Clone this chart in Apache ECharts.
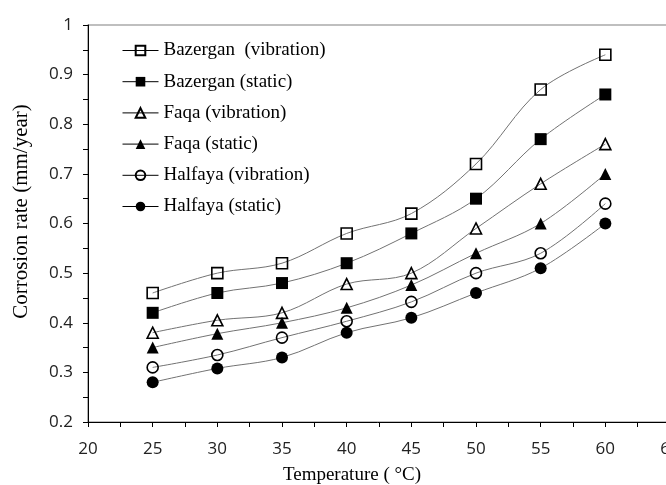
<!DOCTYPE html>
<html>
<head>
<meta charset="utf-8">
<script src="https://cdn.jsdelivr.net/npm/echarts@6/dist/echarts.min.js"></script>
<style>html,body{margin:0;padding:0;background:#fff}#c{width:666px;height:485px}</style>
</head>
<body>
<div id="c"></div>
<script>
var temperatures = [25, 30, 35, 40, 45, 50, 55, 60];
var bazerganVibration = [0.46, 0.50, 0.52, 0.58, 0.62, 0.72, 0.87, 0.94];
var bazerganStatic = [0.42, 0.46, 0.48, 0.52, 0.58, 0.65, 0.77, 0.86];
var faqaVibration = [0.38, 0.405, 0.42, 0.478, 0.50, 0.59, 0.68, 0.76];
var faqaStatic = [0.35, 0.378, 0.40, 0.43, 0.476, 0.54, 0.60, 0.70];
var halfayaVibration = [0.31, 0.335, 0.37, 0.403, 0.442, 0.50, 0.54, 0.64];
var halfayaStatic = [0.28, 0.308, 0.33, 0.38, 0.41, 0.46, 0.51, 0.60];
var seriesNames = ['Bazergan  (vibration)', 'Bazergan (static)', 'Faqa (vibration)', 'Faqa (static)', 'Halfaya (vibration)', 'Halfaya (static)'];
var xTitle = 'Temperature ( \u00B0C)';
var yTitle = 'Corrosion rate (mm/year)';

function pairs(vals) { return temperatures.map(function (t, i) { return [t, vals[i]]; }); }

var shapes = [
  ['rect', false], ['rect', true], ['triangle', false], ['triangle', true], ['circle', false], ['circle', true]
];
var allData = [bazerganVibration, bazerganStatic, faqaVibration, faqaStatic, halfayaVibration, halfayaStatic];

var series = allData.map(function (d, i) {
  var filled = shapes[i][1];
  return {
    name: seriesNames[i],
    type: 'line',
    smooth: 0.35,
    data: pairs(d),
    symbol: shapes[i][0],
    symbolSize: filled ? 12 : 11,
    showAllSymbol: true,
    lineStyle: { color: '#727272', width: 1 },
    itemStyle: filled ? { color: '#000', borderColor: '#000', borderWidth: 0 } : { color: 'rgba(255,255,255,0)', borderColor: '#000', borderWidth: 1.6 },
    emphasis: { disabled: true },
    animation: false
  };
});

var chart = echarts.init(document.getElementById('c'), null, { renderer: 'canvas' });
chart.setOption({
  animation: false,
  grid: { left: 88, top: 25, width: 582, bottom: 63, outerBoundsMode: 'none', containLabel: false, show: true, borderColor: '#808080', borderWidth: 1.2, backgroundColor: 'transparent' },
  legend: {
    orient: 'vertical', left: 122, top: 41, padding: 0, itemWidth: 36, itemHeight: 12, itemGap: 12.2,
    data: seriesNames,
    lineStyle: { color: '#000', width: 1 },
    textStyle: { fontFamily: 'Liberation Serif', fontSize: 19, color: '#000' }
  },
  xAxis: {
    type: 'value', min: 20, max: 65, interval: 5,
    name: xTitle, nameLocation: 'middle', nameGap: 44,
    nameTextStyle: { fontFamily: 'Liberation Serif', fontSize: 19, color: '#000', padding: [0, 54, 0, 0] },
    axisLine: { show: true, onZero: false, lineStyle: { color: '#000', width: 1 } },
    axisTick: { show: true, inside: false, length: 5, lineStyle: { color: '#000' } },
    minorTick: { show: true, splitNumber: 2, length: 5, lineStyle: { color: '#000' } },
    splitLine: { show: false },
    axisLabel: { fontFamily: 'Open Sans', fontSize: 17, color: '#222', margin: 19 }
  },
  yAxis: {
    type: 'value', min: 0.2, max: 1, interval: 0.1,
    name: yTitle, nameLocation: 'middle', nameGap: 56, nameRotate: 90,
    nameTextStyle: { fontFamily: 'Liberation Serif', fontSize: 21, color: '#000', padding: [0, 0, 0, 24] },
    axisLine: { show: true, lineStyle: { color: '#000', width: 1 } },
    axisTick: { show: true, inside: false, length: 5, lineStyle: { color: '#000' } },
    minorTick: { show: true, splitNumber: 2, length: 5, lineStyle: { color: '#000' } },
    splitLine: { show: false },
    axisLabel: { fontFamily: 'Open Sans', fontSize: 17, color: '#222', margin: 15,
      formatter: function (v) { return String(Math.round(v * 10) / 10); } }
  },
  series: series
});
</script>
</body>
</html>
